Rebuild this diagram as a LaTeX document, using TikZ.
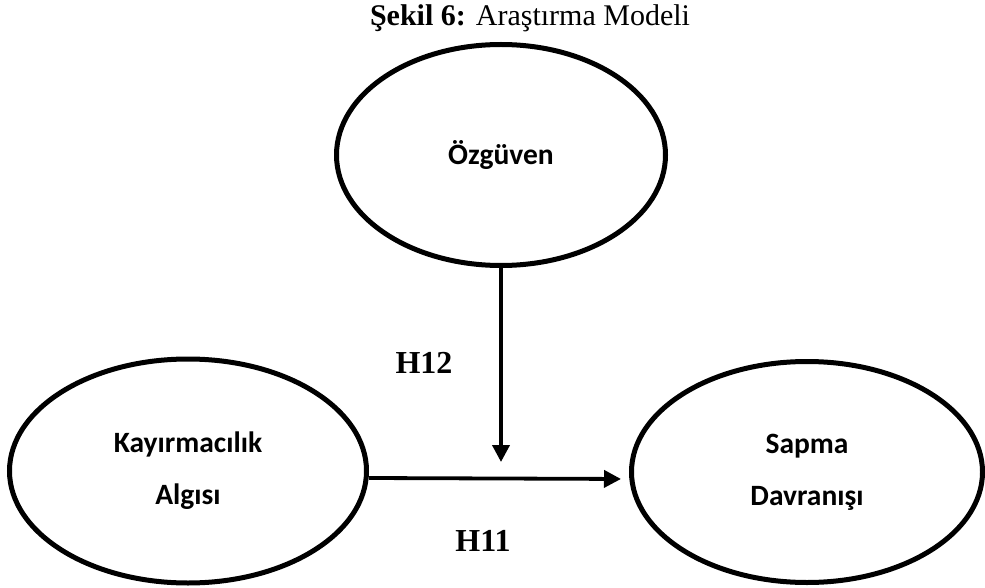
\documentclass[tikz,border=0pt]{standalone}
\usepackage{fontspec}
\setmainfont{Liberation Serif}
\newfontfamily\labelfont{Carlito}
\usetikzlibrary{arrows.meta,positioning,shapes.geometric}

\begin{document}
\begin{tikzpicture}[
  x=1pt, y=-1pt,
  construct/.style={draw, ellipse, line width=5pt, inner sep=0pt,
    align=center, font=\labelfont\bfseries\fontsize{29.5}{35}\selectfont},
  hyp/.style={font=\bfseries\fontsize{32}{37}\selectfont, inner sep=0pt},
  arr/.style={-{Triangle[length=17pt,width=17pt]}, line width=3.8pt}
]
\useasboundingbox (0,0) rectangle (985,588);
\node[font=\fontsize{30}{34}\selectfont, inner sep=0pt] (title) at (530,18)
  {\textbf{Şekil 6:} Araştırma Modeli};
\node[construct, minimum width=329pt, minimum height=221pt] (oz) at (501,155)
  {Özgüven};
\node[construct, minimum width=357pt, minimum height=224pt] (kay) at (188,471)
  {Kayırmacılık\\[17pt]Algısı};
\node[construct, minimum width=351pt, minimum height=221pt] (sap) at (807,472)
  {Sapma\\[17pt]Davranışı};
\coordinate (tip) at (501,462);
\draw[arr] (oz.south) -- (tip);
\draw[arr, shorten >=8pt] ([yshift=-7pt]kay.east) -- ([yshift=-7pt]sap.west);
\node[hyp] (h12) at (424,363) {H12};
\node[hyp] (h11) at (483,541) {H11};
\end{tikzpicture}
\end{document}
